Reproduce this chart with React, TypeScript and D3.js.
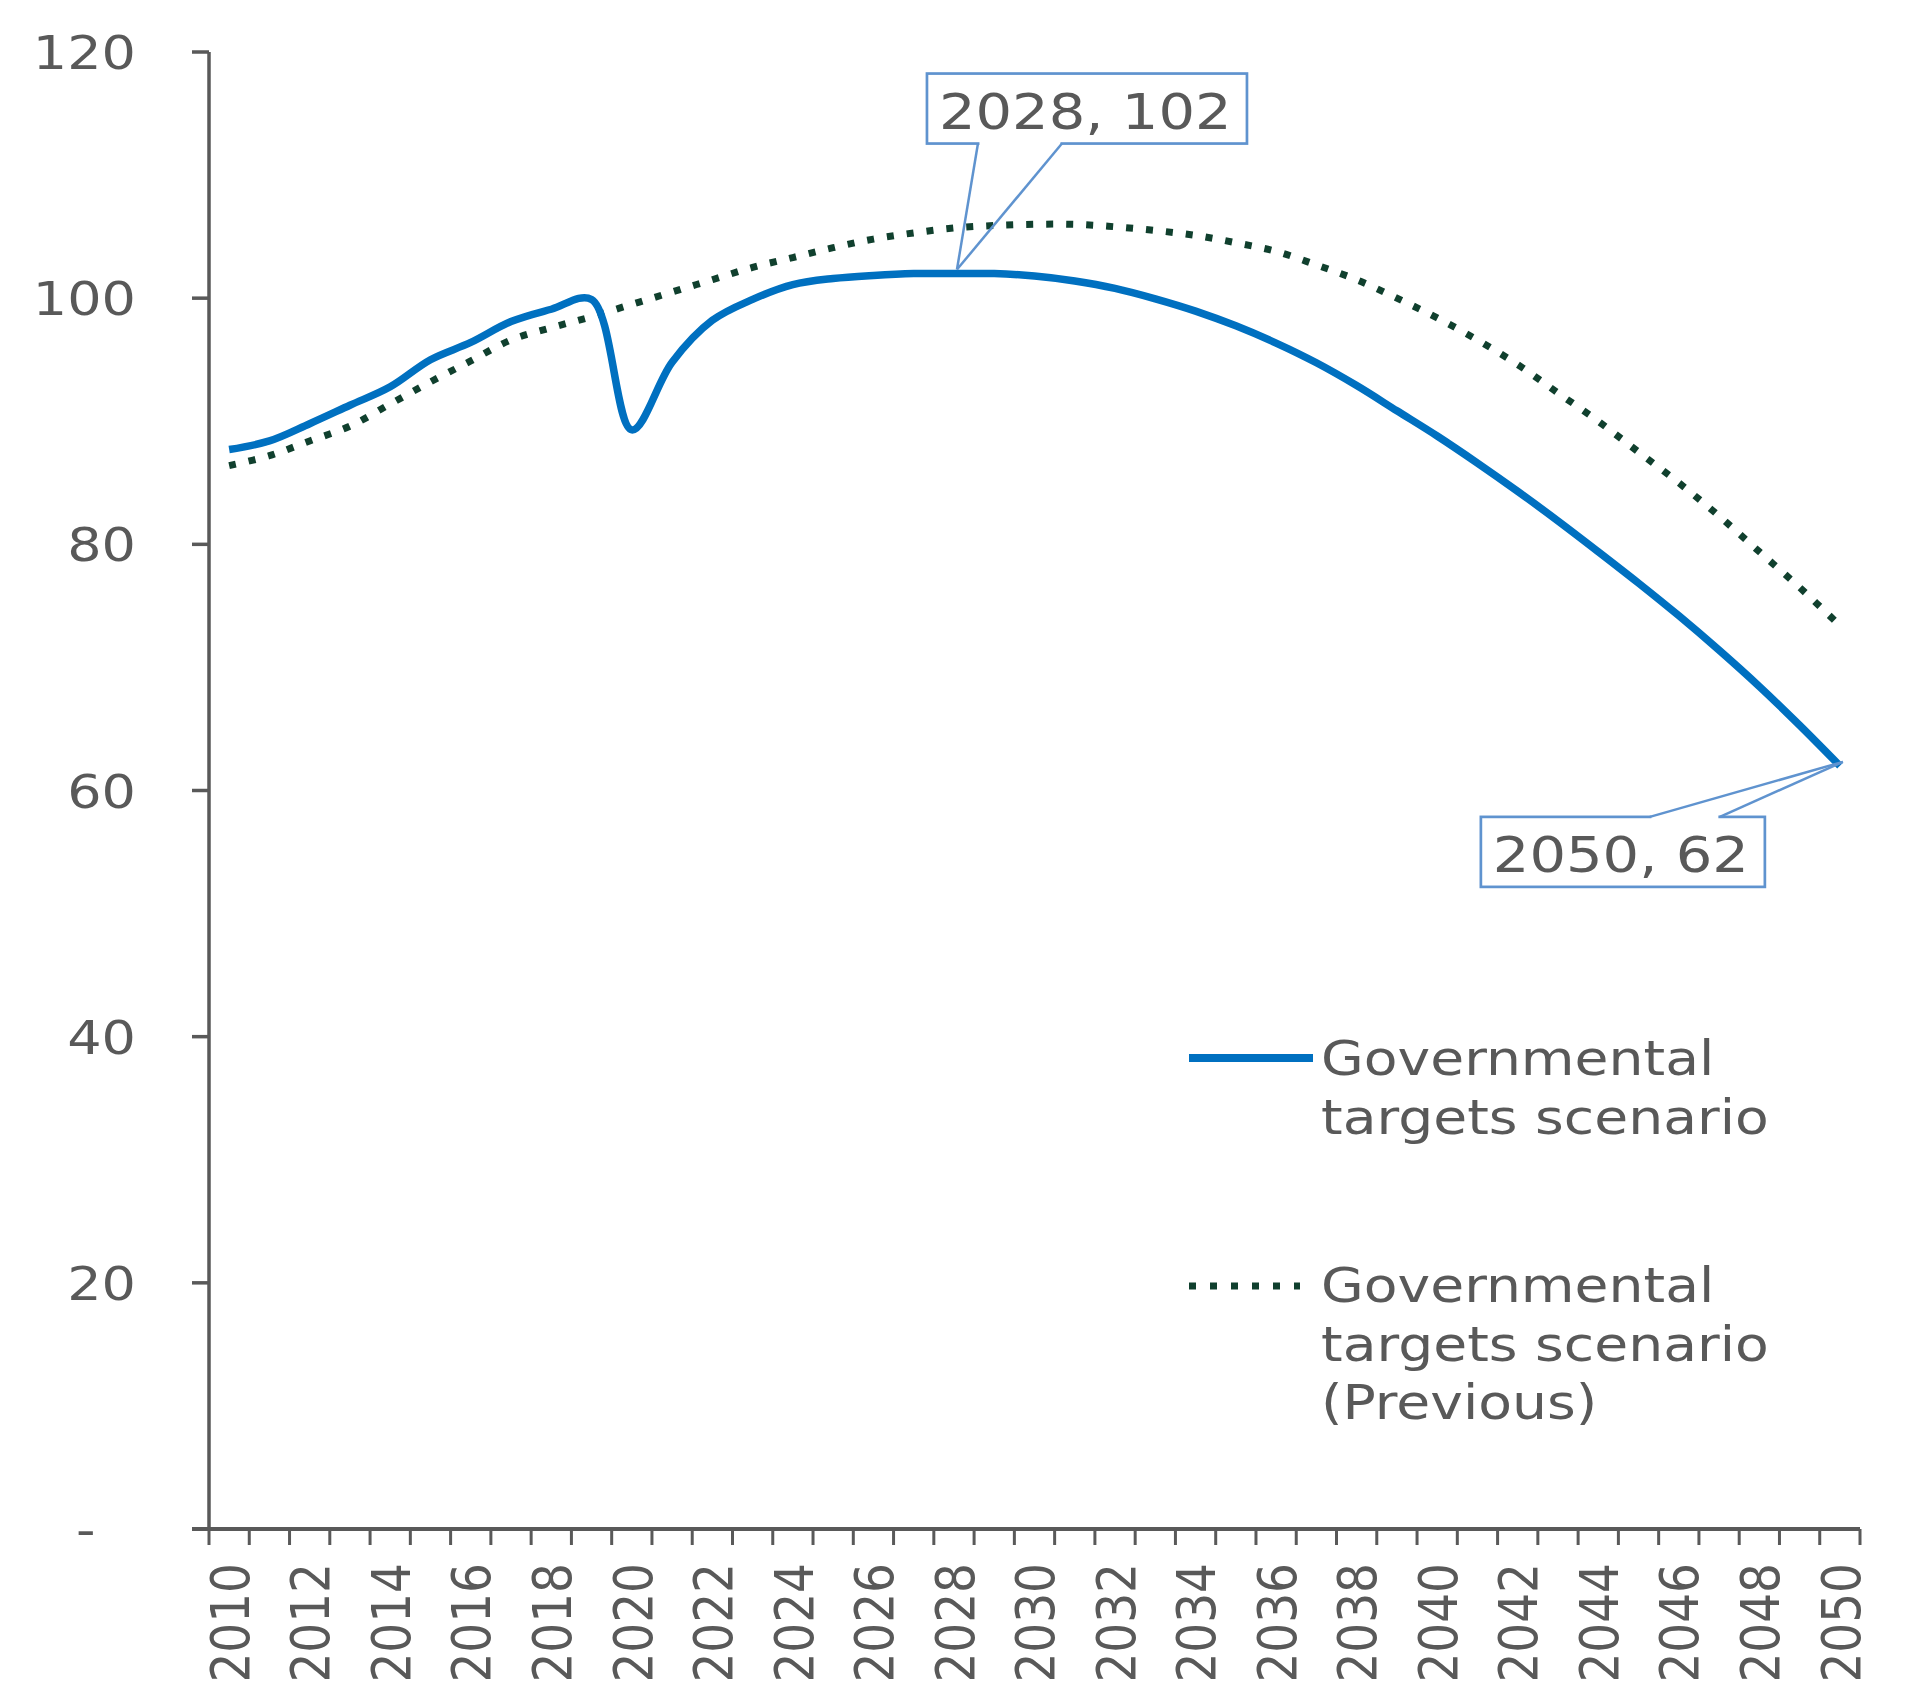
import React from "react";
import * as d3 from "d3";

// ---------- data ----------
const years: number[] = d3.range(2010, 2051);

const governmentalTargets: number[] = [
  87.7, 88.4, 89.8, 91.3, 92.8, 95.0, 96.4, 98.1, 99.1, 99.9,
  89.3, 94.8, 98.2, 99.9, 101.1, 101.6, 101.85, 102.0, 102.0, 102.0,
  101.8, 101.4, 100.8, 99.95, 98.95, 97.75, 96.35, 94.75, 92.9, 90.85,
  88.8, 86.6, 84.3, 81.9, 79.4, 76.85, 74.2, 71.4, 68.45, 65.3,
  62.0,
];

const governmentalTargetsPrevious: number[] = [
  86.4, 87.2, 88.4, 89.6, 91.4, 93.2, 94.9, 96.6, 97.6, 98.5,
  99.5, 100.5, 101.5, 102.5, 103.3, 104.1, 104.8, 105.3, 105.7, 105.9,
  106.0, 106.0, 105.8, 105.5, 105.1, 104.5, 103.8, 102.7, 101.5, 100.0,
  98.4, 96.6, 94.6, 92.3, 90.0, 87.5, 85.0, 82.3, 79.4, 76.5,
  73.4,
];

const yTickValues: number[] = [0, 20, 40, 60, 80, 100, 120];
const yTickLabels: string[] = ["-", "20", "40", "60", "80", "100", "120"];

const xLabelYears: number[] = years.filter((y) => (y - 2010) % 2 === 0);

const legendSolidLabel: string[] = ["Governmental", "targets scenario"];
const legendDottedLabel: string[] = ["Governmental", "targets scenario", "(Previous)"];

const annotationYears: number[] = [2028, 2050];
const annotationValues: number[] = [102, 62];
const annotationLabels: string[] = ["2028, 102", "2050, 62"];

// ---------- layout ----------
const W = 1917;
const H = 1707;
const SX = 1.15; // horizontal stretch of the glyphs
const FONT = "'DejaVu Sans', Verdana, sans-serif";
const GRAY = "#595959";
const BLUE = "#0070c0";
const GREEN = "#10402e";
const CALLOUT = "#5f93cf";

const plotLeft = 209;
const plotRight = 1860;
const plotTop = 52;
const plotBottom = 1529;

// box offsets relative to the annotated point
const annotationBoxes = [
  { dx0: -27, dx1: 293, dy0: -200, dy1: -130, wedgeA: 24, wedgeB: 108, side: "bottom" },
  { dx0: -359, dx1: -75, dy0: 51, dy1: 121, wedgeA: -190, wedgeB: -120, side: "top" },
];

function SText(props: {
  x: number;
  y: number;
  size: number;
  anchor?: string;
  rotate?: boolean;
  fill?: string;
  children: React.ReactNode;
}) {
  const { x, y, size, anchor = "start", rotate = false, fill = GRAY, children } = props;
  return (
    <text
      transform={`translate(${x},${y}) scale(${SX},1)${rotate ? " rotate(-90)" : ""}`}
      textAnchor={anchor}
      fontFamily={FONT}
      fontSize={size}
      fill={fill}
    >
      {children}
    </text>
  );
}

export default function App() {
  const x = d3
    .scaleBand<number>()
    .domain(years)
    .range([plotLeft, plotRight])
    .padding(0);
  const bw = x.bandwidth();
  const cx = (yr: number) => (x(yr) as number) + bw / 2;

  const y = d3.scaleLinear().domain([0, 120]).range([plotBottom, plotTop]);

  const line = d3
    .line<number>()
    .x((_, i) => cx(years[i]))
    .y((d) => y(d))
    .curve(d3.curveCatmullRom.alpha(0.5));

  const boundaries = d3.range(years.length + 1).map((i) => plotLeft + i * bw);

  const yLabelSize = 47;
  const capY = yLabelSize * 0.729;
  const xLabelSize = 47;
  const capX = xLabelSize * 0.729 * SX;

  const legendX = 1321;
  const legendLineX0 = 1189;
  const lineGap = 58.5;

  return (
    <svg
      width={W}
      height={H}
      viewBox={`0 0 ${W} ${H}`}
      style={{ position: "absolute", left: 0, top: 0, display: "block", background: "#fff" }}
    >
      <rect x={0} y={0} width={W} height={H} fill="#fff" />

      {/* y axis */}
      <line x1={plotLeft} x2={plotLeft} y1={plotTop} y2={plotBottom} stroke={GRAY} strokeWidth={3.5} />
      {yTickValues.map((v, i) => (
        <g key={`yt${v}`}>
          <line x1={plotLeft - 17} x2={plotLeft} y1={y(v)} y2={y(v)} stroke={GRAY} strokeWidth={3.5} />
          {v === 0 ? (
            <SText x={76} y={y(v) + capY / 2} size={yLabelSize}>
              {yTickLabels[i]}
            </SText>
          ) : (
            <SText x={136} y={y(v) + capY / 2} size={yLabelSize} anchor="end">
              {yTickLabels[i]}
            </SText>
          )}
        </g>
      ))}

      {/* x axis */}
      <line x1={plotLeft - 17} x2={plotRight} y1={plotBottom} y2={plotBottom} stroke={GRAY} strokeWidth={4} />
      {boundaries.map((bx, i) => (
        <line key={`xt${i}`} x1={bx} x2={bx} y1={plotBottom} y2={plotBottom + 16} stroke={GRAY} strokeWidth={3} />
      ))}
      {xLabelYears.map((yr) => (
        <SText key={`xl${yr}`} x={cx(yr) + capX / 2} y={1563} size={xLabelSize} anchor="end" rotate>
          {String(yr)}
        </SText>
      ))}

      {/* series */}
      <path
        d={line(governmentalTargetsPrevious) || ""}
        fill="none"
        stroke={GREEN}
        strokeWidth={7}
        strokeDasharray="7 13"
      />
      <path d={line(governmentalTargets) || ""} fill="none" stroke={BLUE} strokeWidth={7.5} strokeLinejoin="round" />

      {/* annotations */}
      {annotationYears.map((yr, i) => {
        const px = cx(yr);
        const py = y(annotationValues[i]);
        const b = annotationBoxes[i];
        const x0 = px + b.dx0;
        const x1 = px + b.dx1;
        const y0 = py + b.dy0;
        const y1 = py + b.dy1;
        const wy = b.side === "bottom" ? y1 : y0;
        const wa = px + b.wedgeA;
        const wb = px + b.wedgeB;
        return (
          <g key={`ann${yr}`}>
            <rect x={x0} y={y0} width={x1 - x0} height={y1 - y0} fill="#fff" stroke={CALLOUT} strokeWidth={2.7} />
            <line x1={wa + 1.5} x2={wb - 1.5} y1={wy} y2={wy} stroke="#fff" strokeWidth={4} />
            <line x1={wa} y1={wy} x2={px + 3} y2={py - 4} stroke={CALLOUT} strokeWidth={2.5} />
            <line x1={wb} y1={wy} x2={px + 3} y2={py - 4} stroke={CALLOUT} strokeWidth={2.5} />
            <SText x={x0 + 12} y={y0 + 55.5} size={50}>
              {annotationLabels[i]}
            </SText>
          </g>
        );
      })}

      {/* legend */}
      <line x1={legendLineX0} x2={1313} y1={1058} y2={1058} stroke={BLUE} strokeWidth={8} />
      {legendSolidLabel.map((t, i) => (
        <SText key={`ls${i}`} x={legendX} y={1075 + i * lineGap} size={48}>
          {t}
        </SText>
      ))}
      <line
        x1={legendLineX0}
        x2={1300}
        y1={1286}
        y2={1286}
        stroke={GREEN}
        strokeWidth={7}
        strokeDasharray="7 14"
      />
      {legendDottedLabel.map((t, i) => (
        <SText key={`ld${i}`} x={legendX} y={1302 + i * lineGap} size={48}>
          {t}
        </SText>
      ))}
    </svg>
  );
}
